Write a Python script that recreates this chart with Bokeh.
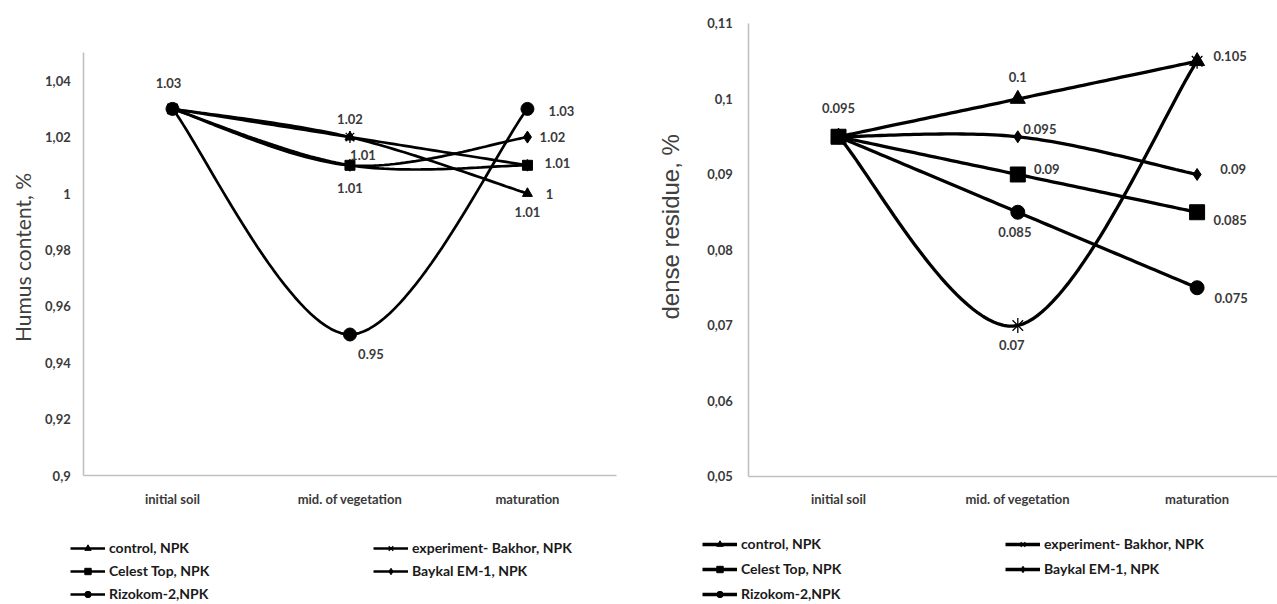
import numpy as np
from bokeh.plotting import figure
from bokeh.models import (Range1d, FixedTicker, CustomJSTickFormatter, Legend,
                          LegendItem, Label, ColumnDataSource)
from bokeh.layouts import row
from bokeh.embed import file_html
from bokeh.resources import INLINE
from bokeh.core.properties import value

# ---------------- data ----------------
stages = ["initial soil", "mid. of vegetation", "maturation"]
series_names = ["control, NPK", "experiment- Bakhor, NPK", "Celest Top, NPK",
                "Baykal EM-1, NPK", "Rizokom-2,NPK"]

humus_control = [1.03, 1.02, 1.00]
humus_bakhor = [1.03, 1.02, 1.01]
humus_celest = [1.03, 1.01, 1.01]
humus_baykal = [1.03, 1.01, 1.02]
humus_rizokom = [1.03, 0.95, 1.03]

residue_control = [0.095, 0.100, 0.105]
residue_bakhor = [0.095, 0.070, 0.105]
residue_celest = [0.095, 0.090, 0.085]
residue_baykal = [0.095, 0.095, 0.090]
residue_rizokom = [0.095, 0.085, 0.075]

humus_ticks = [0.90, 0.92, 0.94, 0.96, 0.98, 1.00, 1.02, 1.04]
residue_ticks = [0.05, 0.06, 0.07, 0.08, 0.09, 0.10, 0.11]

humus_title = "Humus content, %"
residue_title = "dense residue,  %"

# ---------------- styles ----------------
MARKERS = ["triangle", "star", "square", "diamond", "circle"]
TICK_COLOR = "#3a3a3a"
AXIS_COLOR = "#c0c0c0"

# label placement per series: (point index, dx px, dy px)
humus_label_pos = [
    [(0, -4, -26), (2, 22, 0)],
    [(1, 0, -18), (2, 30, -2)],
    [(1, 0, 23), (2, 0, 47)],
    [(1, 13, -10), (2, 25, 0)],
    [(1, 21, 19), (2, 34, 2)],
]
residue_label_pos = [
    [(0, 0, -29), (1, 0, -22), (2, 33, -5)],
    [(1, -6, 20)],
    [(1, 29, -5), (2, 33, 8)],
    [(1, 22, -8), (2, 36, -5)],
    [(1, -3, 20), (2, 34, 10)],
]


def smooth(xs, ys, n=40):
    P = np.column_stack([xs, ys]).astype(float)
    m = len(P)
    out = [P[0]]
    t = np.linspace(0, 1, n)[1:, None]
    for i in range(m - 1):
        p0 = P[i - 1] if i > 0 else P[i]
        p1 = P[i]
        p2 = P[i + 1]
        p3 = P[i + 2] if i + 2 < m else P[i + 1]
        c1 = p1 + (p2 - p0) / 6.0
        c2 = p2 - (p3 - p1) / 6.0
        seg = ((1 - t) ** 3) * p1 + 3 * ((1 - t) ** 2) * t * c1 + 3 * (1 - t) * (t ** 2) * c2 + (t ** 3) * p2
        out.extend(seg)
    arr = np.array(out)
    return arr[:, 0], arr[:, 1]


def make_chart(series, ticks, title, width, x_range, y_range, x_bounds, y_bounds,
               lw, msizes, label_pos, title_font, title_size, title_xy,
               ylab_standoff, legend_loc, legend_spacing, legend_label_width):
    p = figure(width=width, height=604, output_backend="svg", toolbar_location=None,
               x_range=Range1d(*x_range), y_range=Range1d(*y_range),
               min_border_left=0, min_border_right=0,
               min_border_top=0, min_border_bottom=0)
    p.xgrid.visible = False
    p.ygrid.visible = False
    p.outline_line_color = None
    p.background_fill_color = "white"
    p.border_fill_color = "white"

    for ax in (p.xaxis[0], p.yaxis[0]):
        ax.axis_line_color = AXIS_COLOR
        ax.axis_line_width = 1.6
        ax.major_tick_line_color = None
        ax.minor_tick_line_color = None
        ax.major_tick_in = 0
        ax.major_tick_out = 0
        ax.minor_tick_in = 0
        ax.minor_tick_out = 0
        ax.major_label_text_font = "Lato"
        ax.major_label_text_font_style = "bold"
        ax.major_label_text_font_size = "13px"
        ax.major_label_text_color = TICK_COLOR

    xs_idx = list(range(len(stages)))
    xa = p.xaxis[0]
    xa.ticker = FixedTicker(ticks=xs_idx)
    xa.major_label_overrides = {i: s for i, s in enumerate(stages)}
    xa.major_label_standoff = 15
    xa.fixed_location = y_bounds[0]
    xa.bounds = x_bounds

    ya = p.yaxis[0]
    ya.ticker = FixedTicker(ticks=ticks)
    ya.formatter = CustomJSTickFormatter(code="""
        var s = tick.toFixed(3);
        s = s.replace(/0+$/, '').replace(/\\.$/, '');
        return s.replace('.', ',');
    """)
    ya.major_label_standoff = ylab_standoff
    ya.fixed_location = x_bounds[0]
    ya.bounds = y_bounds

    items = []
    lab_x, lab_y, lab_t, lab_dx, lab_dy = [], [], [], [], []
    for k, vals in enumerate(series):
        sx, sy = smooth(xs_idx, vals)
        lr = p.line(sx, sy, line_color="black", line_width=lw)
        rends = [lr]
        mk = MARKERS[k]
        ms = msizes[k]
        if mk == "star":
            r1 = p.scatter(xs_idx, vals, marker="x", size=ms, line_color="black", line_width=1.3)
            r2 = p.scatter(xs_idx, vals, marker="dash", size=ms, angle=np.pi / 2,
                           line_color="black", line_width=1.3)
            rends += [r1, r2]
        else:
            r1 = p.scatter(xs_idx, vals, marker=mk, size=ms, line_color="black",
                           fill_color="black")
            rends.append(r1)
        items.append(LegendItem(label=series_names[k], renderers=rends))
        for (i, dx, dy) in label_pos[k]:
            lab_x.append(xs_idx[i])
            lab_y.append(vals[i])
            lab_t.append(f"{vals[i]:g}")
            lab_dx.append(dx)
            lab_dy.append(dy)

    src = ColumnDataSource(dict(x=lab_x, y=lab_y, text=lab_t, dx=lab_dx, dy=lab_dy))
    p.text(x="x", y="y", text="text", x_offset="dx", y_offset="dy", source=src,
           text_font=value("Lato"), text_font_style="bold", text_font_size="13px",
           text_color=TICK_COLOR, text_align="center", text_baseline="middle")

    p.add_layout(Label(x=title_xy[0], y=title_xy[1], x_units="screen", y_units="screen",
                       text=title, angle=np.pi / 2, text_font=title_font,
                       text_font_size=title_size, text_color="#404040",
                       text_align="center", text_baseline="middle"))

    leg = Legend(items=items, location=legend_loc, orientation="horizontal", ncols=2,
                 glyph_width=35, glyph_height=16, label_height=16,
                 label_width=legend_label_width, label_standoff=4,
                 spacing=legend_spacing, padding=0, margin=0,
                 border_line_color=None, background_fill_alpha=0,
                 label_text_font="Lato", label_text_font_style="bold",
                 label_text_font_size="14px", label_text_color="#1a1a1a")
    p.add_layout(leg)
    return p


p1 = make_chart(
    [humus_control, humus_bakhor, humus_celest, humus_baykal, humus_rizokom],
    humus_ticks, humus_title, 640,
    x_range=(-0.969, 2.637), y_range=(0.85426, 1.06844),
    x_bounds=(-0.5, 2.5), y_bounds=(0.9, 1.05),
    lw=2.7, msizes=[10, 12, 10, 12, 13], label_pos=humus_label_pos,
    title_font="Lato", title_size="21px", title_xy=(22, 347),
    ylab_standoff=13, legend_loc=(70, 2), legend_spacing=6, legend_label_width=258)

p2 = make_chart(
    [residue_control, residue_bakhor, residue_celest, residue_baykal, residue_rizokom],
    residue_ticks, residue_title, 637,
    x_range=(-1.1043, 2.4484), y_range=(0.033046, 0.113046),
    x_bounds=(-0.5, 2.4484), y_bounds=(0.05, 0.11),
    lw=3.3, msizes=[15, 15, 15, 12, 14], label_pos=residue_label_pos,
    title_font="Liberation Sans", title_size="24px", title_xy=(30, 381),
    ylab_standoff=16, legend_loc=(62, 2), legend_spacing=8, legend_label_width=256)

layout = row(p1, p2)
open("out.html", "w").write(file_html(layout, INLINE))
